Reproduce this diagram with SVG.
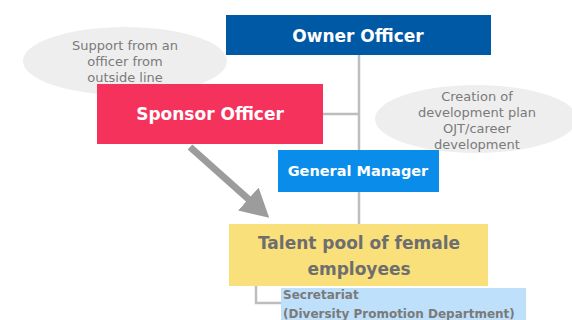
<svg xmlns="http://www.w3.org/2000/svg" width="572" height="320" viewBox="0 0 572 320">
<style>
.bt{font-family:"DejaVu Sans","Noto Sans",sans-serif;font-weight:bold;fill:#fff;text-anchor:middle}
.nt{font-family:"DejaVu Sans","Noto Sans",sans-serif;fill:#7a7a7a;text-anchor:middle;font-size:13px}
.st{font-family:"DejaVu Sans","Noto Sans",sans-serif;font-weight:bold;fill:#7a7a7a;font-size:12px}
.ln{stroke:#bdbdbd;stroke-width:2.5;fill:none}
</style>
<defs>
<marker id="ah" markerWidth="4" markerHeight="4.4" refX="3" refY="2.2" orient="auto" markerUnits="strokeWidth">
<path d="M0,0 L4,2.2 L0,4.4 Z" fill="#9c9c9c"/>
</marker>
</defs>
<rect width="572" height="320" fill="#fff"/>
<g id="connectors">
<path class="ln" d="M359,55 V224"/>
<path class="ln" d="M323,114 H359"/>
<path class="ln" d="M256,286 V303 H281"/>
<path d="M190,147 L264,213" stroke="#9c9c9c" stroke-width="7" fill="none" marker-end="url(#ah)"/>
</g>
<g id="note-support">
<ellipse cx="125" cy="61" rx="102" ry="34" fill="#eeeeee"/>
<text class="nt" x="125" y="50">Support from an</text>
<text class="nt" x="125" y="66">officer from</text>
<text class="nt" x="125" y="82">outside line</text>
</g>
<g id="note-creation">
<ellipse cx="476" cy="119" rx="101" ry="34" fill="#eeeeee"/>
<text class="nt" x="477" y="101">Creation of</text>
<text class="nt" x="477" y="117">development plan</text>
<text class="nt" x="477" y="133">OJT/career</text>
<text class="nt" x="477" y="149">development</text>
</g>
<g id="owner">
<rect x="226" y="15" width="265" height="40" fill="#0059a5"/>
<text class="bt" x="358" y="42" font-size="17">Owner Officer</text>
</g>
<g id="sponsor">
<rect x="97" y="84" width="226" height="60" fill="#f4325c"/>
<text class="bt" x="210" y="120" font-size="17">Sponsor Officer</text>
</g>
<g id="gm">
<rect x="278" y="150" width="161" height="42" fill="#0a8ceb"/>
<text class="bt" x="358" y="176" font-size="14.5">General Manager</text>
</g>
<g id="talent">
<rect x="229" y="224" width="259" height="62" fill="#f9e07b"/>
<text class="bt" x="359" y="249" font-size="17" style="fill:#6e6e6e">Talent pool of female</text>
<text class="bt" x="359" y="275" font-size="17" style="fill:#6e6e6e">employees</text>
</g>
<g id="secretariat">
<rect x="281" y="288" width="245" height="34" fill="#bee0fa"/>
<text class="st" x="283" y="299">Secretariat</text>
<text class="st" x="283" y="318">(Diversity Promotion Department)</text>
</g>
</svg>
